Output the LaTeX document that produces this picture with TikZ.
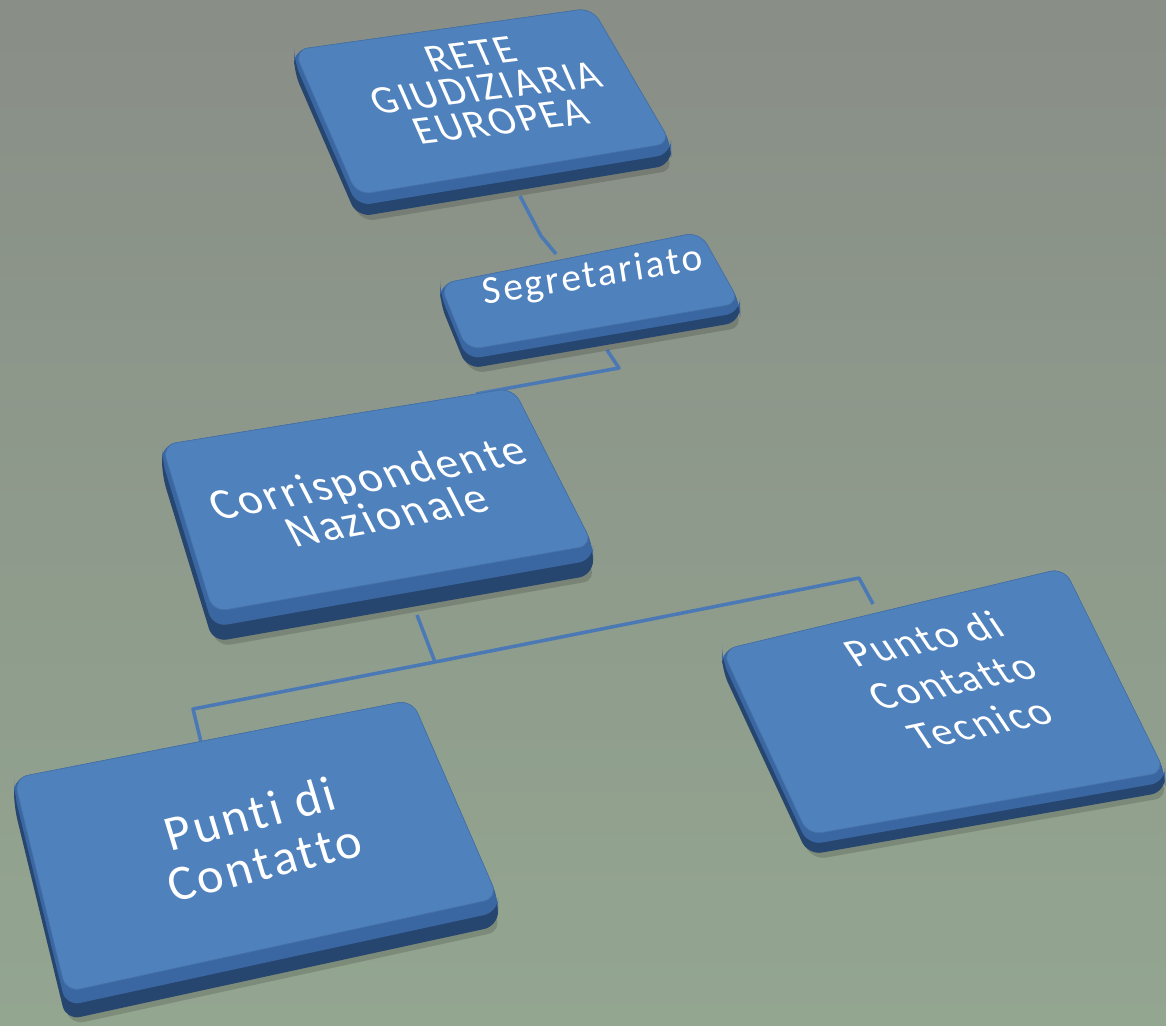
\documentclass[tikz,border=0pt]{standalone}
\usepackage{fontspec}
\setmainfont{Carlito}[LetterSpace=6, Ligatures={NoCommon,NoContextual}]
\usetikzlibrary{calc}

\definecolor{facecol}{HTML}{4F81BD}
\definecolor{rimcol}{HTML}{3A67A1}
\definecolor{basecol}{HTML}{27466F}
\definecolor{linkcol}{HTML}{4A79B5}
\definecolor{bgtop}{HTML}{898E87}
\definecolor{bgbottom}{HTML}{93A690}

\tikzset{boxtop/.style={fill=facecol, draw=facecol!88!black, line width=0.4pt, rounded corners=8pt}}
\tikzset{boxrim/.style={fill=rimcol, rounded corners=8pt}}
\tikzset{boxbase/.style={fill=basecol, rounded corners=8pt}}
\tikzset{boxshadow/.style={fill=black, opacity=0.15, rounded corners=8pt}}
\tikzset{boxtext/.style={text=white, align=center, inner sep=0pt}}
\tikzset{link/.style={draw=linkcol, line width=2pt, line join=round}}

\newcommand{\boxfont}[2]{\fontsize{#1}{#2}\selectfont\lineskiplimit=-100pt\relax}

% slab: name, top-left, top-right, bottom-right, bottom-left, thickness
\newcommand{\slab}[6]{%
  \coordinate (#1-tl) at #2;
  \coordinate (#1-tr) at #3;
  \coordinate (#1-br) at #4;
  \coordinate (#1-bl) at #5;
  \fill[boxshadow] ($(#1-tl)+(4,{#6+5})$) -- ($(#1-tr)+(4,{#6+5})$) -- ($(#1-br)+(4,{#6+5})$) -- ($(#1-bl)+(4,{#6+5})$) -- cycle;
  \fill[boxbase] (#1-tl) -- (#1-tr) -- (#1-br) -- ($(#1-br)+(0,#6)$) -- ($(#1-bl)+(0,#6)$) -- ($(#1-tl)+(0,#6)$) -- cycle;
  \fill[boxrim] (#1-tl) -- (#1-tr) -- (#1-br) -- ($(#1-br)+(0,{#6*0.5})$) -- ($(#1-bl)+(0,{#6*0.5})$) -- ($(#1-tl)+(0,{#6*0.5})$) -- cycle;
  \filldraw[boxtop] (#1-tl) -- (#1-tr) -- (#1-br) -- (#1-bl) -- cycle;
}

\begin{document}
\begin{tikzpicture}[x=0.02cm, y=-0.02cm]
    \useasboundingbox (0,0) rectangle (1166,1026);
    \fill[top color=bgtop, bottom color=bgbottom] (0,0) rectangle (1166,1026);

    % connector ends
    \coordinate (rete-s) at (520,196);
    \coordinate (segr-n) at (556,254);
    \coordinate (segr-s) at (607,350);
    \coordinate (segr-bend) at (619,368);
    \coordinate (corr-n) at (476,394);
    \coordinate (corr-s) at (417,615);
    \coordinate (fork) at (435,662);
    \coordinate (left-bend) at (193,709);
    \coordinate (punti-n) at (201,742);
    \coordinate (right-bend) at (859,578);
    \coordinate (tec-n) at (873,604);

    \draw[link] (rete-s) -- (541,236) -- (segr-n);
    \draw[link] (segr-s) -- (segr-bend) -- (corr-n);
    \draw[link] (corr-s) -- (fork);
    \draw[link] (fork) -- (left-bend) -- (punti-n);
    \draw[link] (fork) -- (right-bend) -- (tec-n);

    \slab{rete}{(294,50)}{(592,8)}{(671,143)}{(357,195)}{22}
    \slab{segr}{(440,284)}{(700,232)}{(740,303)}{(467,350)}{19}
    \slab{corr}{(162,445)}{(513,388)}{(593,545)}{(213,612)}{30}
    \slab{punti}{(14,778)}{(412,700)}{(498,898)}{(66,992)}{28}
    \slab{tec}{(722,650)}{(1064,568)}{(1165,772)}{(808,835)}{20}

    \node[boxtext, font=\boxfont{23}{20}, rotate=7, xslant=-0.3] (rete) at (486,88) {RETE\\GIUDIZIARIA\\EUROPEA};
    \node[boxtext, font=\boxfont{22.5}{20}, rotate=9] (segr) at (593,277) {Segretariato};
    \node[boxtext, font=\boxfont{25.5}{23}, rotate=10.5, xslant=-0.3] (corr) at (377,496) {Corrispondente\\Nazionale};
    \node[boxtext, font=\boxfont{28.5}{29}, rotate=14, xslant=-0.05] (punti) at (257,838) {Punti di\\Contatto};
    \node[boxtext, font=\boxfont{23.5}{27}, rotate=12, xslant=-0.4] (tec) at (952,681) {Punto di\\Contatto\\Tecnico};
\end{tikzpicture}
\end{document}
